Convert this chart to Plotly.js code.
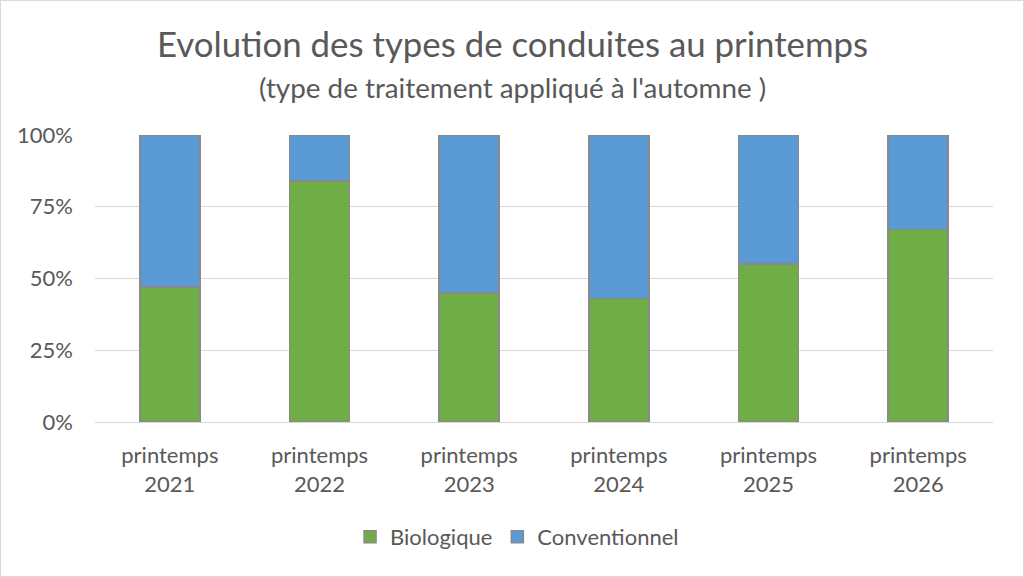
<!DOCTYPE html>
<html>
<head>
<meta charset="utf-8">
<script src="https://cdn.plot.ly/plotly-3.0.1.min.js"></script>
<style>
  html, body { margin: 0; padding: 0; background: #fff; }
  #chart { width: 1024px; height: 577px; box-sizing: border-box; border: 1px solid #d9d9d9; }
</style>
</head>
<body>
<div id="chart"></div>
<script>
    var categories = ['printemps<br>2021', 'printemps<br>2022', 'printemps<br>2023',
        'printemps<br>2024', 'printemps<br>2025', 'printemps<br>2026'];
    var biologique = [47, 84, 45, 43, 55, 67];
    var conventionnel = [53, 16, 55, 57, 45, 33];
    var tickVals = [0, 25, 50, 75, 100];
    var tickText = ['0%', '25%', '50%', '75%', '100%'];

    var edge = { color: '#898989', width: 1.5 };

    var traces = [
        {
            name: 'Biologique',
            type: 'bar',
            x: categories,
            y: biologique,
            marker: { color: '#70AD47', line: edge }
        },
        {
            name: 'Conventionnel',
            type: 'bar',
            x: categories,
            y: conventionnel,
            marker: { color: '#5B9BD5', line: edge }
        }
    ];

    var layout = {
        width: 1022,
        height: 575,
        barmode: 'stack',
        bargap: 0.6,
        paper_bgcolor: '#ffffff',
        plot_bgcolor: '#ffffff',
        font: { family: 'Lato, "Open Sans", sans-serif', color: '#595959', size: 22 },
        margin: { l: 94, r: 30, t: 134, b: 154 },
        annotations: [
            {
                text: 'Evolution des types de conduites au printemps',
                xref: 'paper', yref: 'paper',
                x: 0.4644, y: 1.32, xanchor: 'center', yanchor: 'middle',
                showarrow: false,
                font: { size: 34.8, color: '#595959' }
            },
            {
                text: '(type de traitement appliqué à l\'automne )',
                xref: 'paper', yref: 'paper',
                x: 0.4644, y: 1.167, xanchor: 'center', yanchor: 'middle',
                showarrow: false,
                font: { size: 27.8, color: '#595959' }
            }
        ],
        xaxis: {
            type: 'category',
            showline: true,
            linecolor: '#d9d9d9',
            linewidth: 1,
            ticks: '',
            ticklabelstandoff: 14,
            tickfont: { size: 22, color: '#595959' }
        },
        yaxis: {
            range: [0, 100],
            tickvals: tickVals,
            ticktext: tickText,
            showgrid: true,
            gridcolor: '#d9d9d9',
            gridwidth: 1,
            zeroline: false,
            ticks: '',
            ticklabelstandoff: 21,
            tickfont: { size: 22, color: '#595959' }
        },
        legend: {
            orientation: 'h',
            x: 0.47,
            xanchor: 'center',
            y: -0.4007,
            yanchor: 'middle',
            font: { size: 22, color: '#595959' },
            traceorder: 'normal'
        },
        showlegend: true
    };

    Plotly.newPlot('chart', traces, layout, { displayModeBar: false, staticPlot: true });
</script>
</body>
</html>
